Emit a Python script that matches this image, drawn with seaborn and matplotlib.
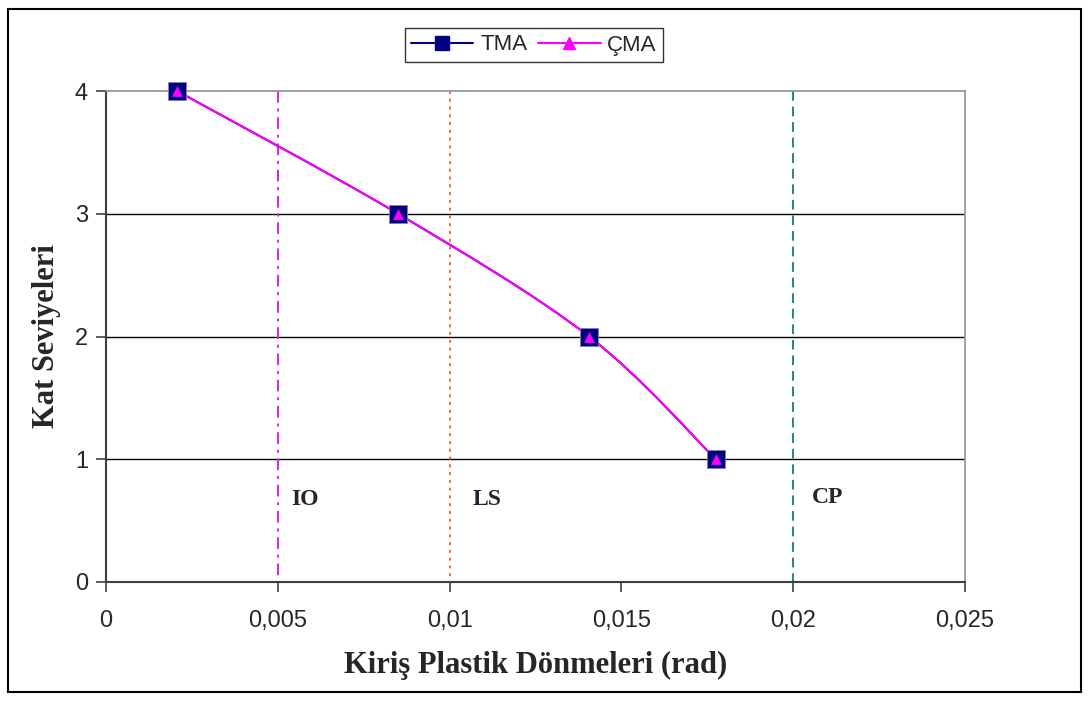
import numpy as np
import pandas as pd
import matplotlib
matplotlib.use("Agg")
import matplotlib.pyplot as plt
import seaborn as sns
from matplotlib.path import Path
from matplotlib.patches import PathPatch, Rectangle
from matplotlib.lines import Line2D

# Data
levels = [4, 3, 2, 1]
tma_rot = [0.00207, 0.0085, 0.01406, 0.01775]
cma_rot = [0.00207, 0.0085, 0.01406, 0.01775]

# Performance limits
limit_names = ["IO", "LS", "CP"]
limit_values = [0.005, 0.01, 0.02]
limit_colors = ["#e020e0", "#f07020", "#20905a"]
limit_styles = [(0, (6, 3, 1.5, 3)), (0, (1.5, 2.5)), (0, (5, 3))]
label_x = [0.0058, 0.0111, 0.0210]
label_y = [0.67, 0.67, 0.69]

x_ticks = [0, 0.005, 0.01, 0.015, 0.02, 0.025]
x_tick_labels = ["0", "0,005", "0,01", "0,015", "0,02", "0,025"]
y_ticks = [0, 1, 2, 3, 4]

df = pd.DataFrame({"rot": tma_rot + cma_rot,
                   "level": levels + levels,
                   "series": ["TMA"] * 4 + ["ÇMA"] * 4})


# Smooth curve (Excel style) as bezier segments through the points
def smooth_path(xs, ys):
    pts = np.column_stack([xs, ys])
    ext = np.vstack([pts[0], pts, pts[-1]])
    verts = [pts[0]]
    codes = [Path.MOVETO]
    for i in range(len(pts) - 1):
        p0, p1, p2, p3 = ext[i], ext[i + 1], ext[i + 2], ext[i + 3]
        verts += [p1 + (p2 - p0) / 6, p2 - (p3 - p1) / 6, p2]
        codes += [Path.CURVE4] * 3
    return Path(verts, codes)


sns.set_style("white")
plt.rcParams["font.family"] = ["Liberation Sans", "DejaVu Sans"]

fig = plt.figure(figsize=(10.89, 7.02), dpi=100)
ax = fig.add_axes([106 / 1089, 1 - 582 / 702, (965 - 106) / 1089, (582 - 91) / 702])

for y in [1, 2, 3]:
    ax.axhline(y, color="black", lw=1, zorder=1)

for name, val, col, ls, lx, ly in zip(limit_names, limit_values, limit_colors,
                                      limit_styles, label_x, label_y):
    ax.plot([val, val], [4, 0], color=col, lw=1.4, linestyle=ls, zorder=2)
    ax.text(lx, ly, name, ha="center", va="center", fontsize=17,
            fontweight="bold", family="Liberation Serif")

ax.add_patch(PathPatch(smooth_path(tma_rot, levels), fill=False,
                       edgecolor="#000080", lw=1.5, zorder=3))
ax.add_patch(PathPatch(smooth_path(cma_rot, levels), fill=False,
                       edgecolor="#ff00ff", lw=1.5, zorder=4))

sns.scatterplot(data=df[df.series == "TMA"], x="rot", y="level", marker="s",
                color="#000080", s=150, edgecolor="#8080c0", linewidth=0.6,
                ax=ax, zorder=5, legend=False, clip_on=False)
sns.scatterplot(data=df[df.series == "ÇMA"], x="rot", y="level", marker="^",
                color="#ff00ff", s=60, edgecolor="#ff00ff", linewidth=0,
                ax=ax, zorder=6, legend=False, clip_on=False)

ax.set_xlim(0, 0.025)
ax.set_ylim(0, 4)
ax.set_xticks(x_ticks)
ax.set_xticklabels(x_tick_labels)
ax.set_yticks(y_ticks)
ax.tick_params(axis="both", direction="out", length=7, width=1.2, color="#404040",
               labelsize=17, bottom=True, left=True)
ax.tick_params(axis="x", pad=13)
ax.tick_params(axis="y", pad=6)
for side in ["top", "right"]:
    ax.spines[side].set_color("#909090")
    ax.spines[side].set_linewidth(1.2)
for side in ["left", "bottom"]:
    ax.spines[side].set_color("#404040")
    ax.spines[side].set_linewidth(1.5)

ax.set_xlabel("Kiriş Plastik Dönmeleri (rad)", fontsize=22, fontweight="bold",
              family="Liberation Serif", labelpad=14)
ax.set_ylabel("Kat Seviyeleri", fontsize=22, fontweight="bold",
              family="Liberation Serif", labelpad=10)

handles = [Line2D([], [], color="#000080", marker="s", markersize=10, lw=1.5),
           Line2D([], [], color="#ff00ff", marker="^", markersize=8, lw=1.5)]
leg = fig.legend(handles, ["TMA", "ÇMA"], loc="center", bbox_to_anchor=(534 / 1089, 1 - 45 / 702),
                 ncol=2, fontsize=16, frameon=True, fancybox=False, handlelength=2.8,
                 columnspacing=0.5, handletextpad=0.3, borderpad=0.3)
leg.get_frame().set_edgecolor("black")
leg.get_frame().set_linewidth(1)

fig.patches.append(Rectangle((8 / 1089, 10 / 702), 1073 / 1089, 683 / 702,
                             transform=fig.transFigure, fill=False,
                             edgecolor="black", lw=1.5))

fig.savefig("out.png", dpi=100)
